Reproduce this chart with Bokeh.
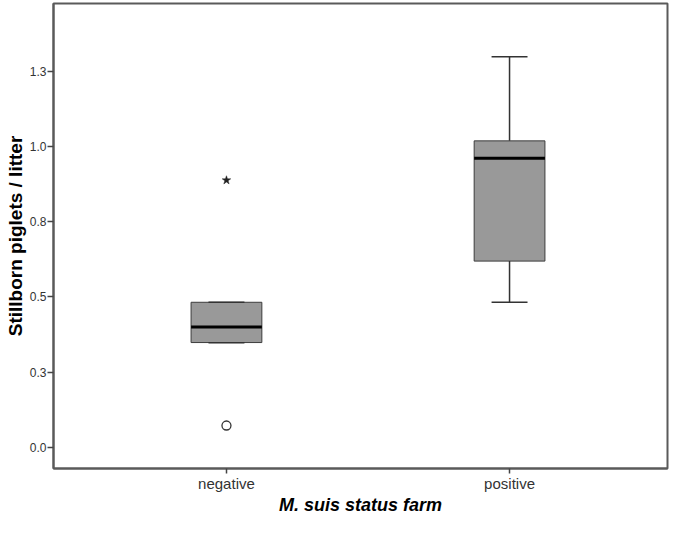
from bokeh.plotting import figure
from bokeh.models import Range1d, FixedTicker
from bokeh.embed import file_html
from bokeh.resources import INLINE

# ---- data ----
categories = ["negative", "positive"]
whisker_low = [0.347, 0.482]
q1 = [0.348, 0.619]
median = [0.400, 0.961]
q3 = [0.482, 1.019]
whisker_high = [0.482, 1.299]
outlier_cat = ["negative"]
outlier_val = [0.072]
extreme_cat = ["negative"]
extreme_val = [0.888]
y_ticks = [0.0, 0.25, 0.5, 0.75, 1.0, 1.25]
y_tick_labels = ["0.0", "0.3", "0.5", "0.8", "1.0", "1.3"]

FONT = "Liberation Sans"
pos = {c: i + 1 for i, c in enumerate(categories)}
xs = [pos[c] for c in categories]
box_w = 0.25
cap_w = 0.127

p = figure(width=669, height=517, output_backend="svg", toolbar_location=None,
           x_range=Range1d(0.389, 2.558), y_range=Range1d(-0.071, 1.476),
           min_border_left=53, min_border_right=2, min_border_top=3, min_border_bottom=40)

p.background_fill_color = "white"
p.border_fill_color = "white"
p.outline_line_color = "#5a5a5a"
p.outline_line_width = 2
p.xgrid.visible = False
p.ygrid.visible = False

# boxes
p.vbar(x=xs, bottom=q1, top=q3, width=box_w, fill_color="#999999",
       line_color="#3c3c3c", line_width=1)
# whisker stems
p.segment(x0=xs, x1=xs, y0=q3, y1=whisker_high, line_color="#333333", line_width=1.5)
p.segment(x0=xs, x1=xs, y0=q1, y1=whisker_low, line_color="#333333", line_width=1.5)
# whisker caps
p.segment(x0=[x - cap_w / 2 for x in xs], x1=[x + cap_w / 2 for x in xs],
          y0=whisker_high, y1=whisker_high, line_color="#333333", line_width=1.5)
p.segment(x0=[x - cap_w / 2 for x in xs], x1=[x + cap_w / 2 for x in xs],
          y0=whisker_low, y1=whisker_low, line_color="#333333", line_width=1.5)
# medians
p.segment(x0=[x - box_w / 2 for x in xs], x1=[x + box_w / 2 for x in xs],
          y0=median, y1=median, line_color="black", line_width=3)
# outliers
p.scatter(x=[pos[c] for c in outlier_cat], y=outlier_val, marker="circle", size=9,
          fill_color=None, line_color="#333333", line_width=1.3)
p.scatter(x=[pos[c] for c in extreme_cat], y=extreme_val, marker="star", size=9,
          fill_color="#222222", line_color="#222222", line_width=0.5)

# axes
p.xaxis.ticker = FixedTicker(ticks=xs)
p.xaxis.major_label_overrides = {pos[c]: c for c in categories}
p.yaxis.ticker = FixedTicker(ticks=y_ticks)
p.yaxis.major_label_overrides = {t: l for t, l in zip(y_ticks, y_tick_labels)}

for ax in (p.xaxis[0], p.yaxis[0]):
    ax.axis_line_color = "#5a5a5a"
    ax.axis_line_width = 2
    ax.major_tick_line_color = "#444444"
    ax.major_tick_line_width = 1.5
    ax.major_tick_in = 0
    ax.minor_tick_line_color = None
    ax.major_label_text_font = FONT
    ax.major_label_text_color = "#333333"
    ax.axis_label_text_font = FONT
    ax.axis_label_text_color = "black"
    ax.axis_label_text_font_style = "bold"

p.yaxis.major_tick_out = 6
p.yaxis.major_label_text_font_size = "12px"
p.yaxis.major_label_standoff = 1
p.yaxis.axis_label = "Stillborn piglets / litter"
p.yaxis.axis_label_text_font_size = "19px"
p.yaxis.axis_label_standoff = 1

p.xaxis.major_tick_out = 5
p.xaxis.major_label_text_font_size = "15px"
p.xaxis.major_label_standoff = 1
p.xaxis.axis_label = "M. suis status farm"
p.xaxis.axis_label_text_font_size = "18px"
p.xaxis.axis_label_text_font_style = "bold italic"
p.xaxis.axis_label_standoff = 0

open("out.html", "w").write(file_html(p, INLINE))
